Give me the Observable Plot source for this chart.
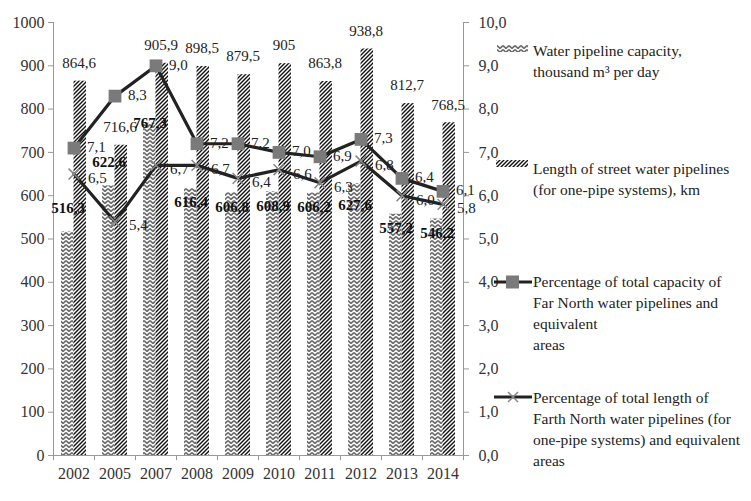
<!DOCTYPE html>
<html><head><meta charset="utf-8">
<script src="https://cdn.jsdelivr.net/npm/d3@7"></script>
<script src="https://cdn.jsdelivr.net/npm/@observablehq/plot@0.6"></script>
<style>
body{margin:0;background:#fff;}
#wrap{position:relative;width:751px;height:501px;font-family:"Liberation Serif","Times New Roman",serif;}
#wrap svg text{font-family:"Liberation Serif","Times New Roman",serif !important;}
.item{position:absolute;left:533px;font-size:15.5px;line-height:21px;color:#222;white-space:nowrap;}
.sw{position:absolute;}
</style></head><body><div id="wrap"></div>
<script>
const years = ["2002","2005","2007","2008","2009","2010","2011","2012","2013","2014"];
const capacity = [516.3, 622.6, 767.3, 616.4, 606.8, 608.9, 606.2, 627.6, 557.2, 546.2];
const lengthKm = [864.6, 716.6, 905.9, 898.5, 879.5, 905, 863.8, 938.8, 812.7, 768.5];
const pctCapacity = [7.1, 8.3, 9.0, 7.2, 7.2, 7.0, 6.9, 7.3, 6.4, 6.1];
const pctLength = [6.5, 5.4, 6.7, 6.7, 6.4, 6.6, 6.3, 6.8, 6.0, 5.8];
const leftTicks = [0,100,200,300,400,500,600,700,800,900,1000];
const leftTickLabels = ["0","100","200","300","400","500","600","700","800","900","1000"];
const rightTickLabels = ["0,0","1,0","2,0","3,0","4,0","5,0","6,0","7,0","8,0","9,0","10,0"];
const legendLabels = [
  ["Water pipeline capacity,", "thousand m³ per day"],
  ["Length of street water pipelines", "(for one-pipe systems), km"],
  ["Percentage of total capacity of", "Far North water pipelines and", "equivalent", "areas"],
  ["Percentage of total length of", "Farth North water pipelines (for", "one-pipe systems) and equivalent", "areas"]
];

const rows = years.map((year, i) => ({year, capacity: capacity[i], length: lengthKm[i], pc: pctCapacity[i], pl: pctLength[i]}));

const W = 751, H = 501, ml = 53, mr = 288, mt = 22, mb = 46;
const step = (W - ml - mr) / years.length;
const half = 12.5;
const ax = "#999";
const fmtNum = v => String(v).replace(".", ",");
const fmtPct = v => v.toFixed(1).replace(".", ",");
const yPct = d => d * 100; // right axis: 0..10 mapped onto 0..1000

const capAbove = new Set(["2002","2005"]);
const capTop = new Set(["2007"]);
const capLow = new Set(["2012"]);
const capInside = d => !capAbove.has(d.year) && !capTop.has(d.year) && !capLow.has(d.year);
const capText = {x: "year", y: "capacity", text: d => fmtNum(d.capacity), dx: -6, fontSize: 15, fontWeight: "bold", fill: "#111"};

const chart = Plot.plot({
  width: W, height: H,
  marginLeft: ml, marginRight: mr, marginTop: mt, marginBottom: mb,
  style: {fontFamily: "Liberation Serif, serif", fontSize: "16px", color: "#333", background: "white"},
  x: {type: "band", domain: years, padding: 0, label: null},
  y: {domain: [0, 1000], label: null},
  marks: [
    Plot.barY(rows, {x: "year", y: "capacity", fill: "url(#chev)", insetLeft: step/2 - half, insetRight: step/2}),
    Plot.barY(rows, {x: "year", y: "length", fill: "url(#hatch)", insetLeft: step/2, insetRight: step/2 - half}),
    Plot.ruleY([0], {stroke: ax}),
    Plot.ruleX([years[0]], {dx: -step/2, stroke: ax}),
    Plot.ruleX([years[years.length-1]], {dx: step/2, stroke: ax}),
    Plot.ruleX(years, {x: d => d, dx: -step/2, y1: 0, y2: -12, stroke: ax}),
    Plot.ruleX([years[years.length-1]], {dx: step/2, y1: 0, y2: -12, stroke: ax}),
    Plot.axisY({ticks: leftTicks, tickSize: 5, tickPadding: 4, stroke: ax, label: null,
      tickFormat: d => leftTickLabels[leftTicks.indexOf(d)]}),
    Plot.axisY({anchor: "right", ticks: leftTicks, tickSize: 5, tickPadding: 10, stroke: ax, label: null,
      tickFormat: d => rightTickLabels[leftTicks.indexOf(d)]}),
    Plot.axisX({tickSize: 0, tickPadding: 12, label: null}),
    Plot.line(rows, {x: "year", y: d => yPct(d.pl), stroke: "#222", strokeWidth: 3.2}),
    Plot.dot(rows, {x: "year", y: d => yPct(d.pl), symbol: "times", r: 5, stroke: "#888", strokeWidth: 1.5}),
    Plot.line(rows, {x: "year", y: d => yPct(d.pc), stroke: "#222", strokeWidth: 3.2}),
    Plot.dot(rows, {x: "year", y: d => yPct(d.pc), symbol: "square", r: 7.2, fill: "#7a7a7a", stroke: "none"}),
    Plot.text(rows, {x: "year", y: "length", text: d => fmtNum(d.length), dx: 5, dy: -18, fontSize: 15, fill: "#222"}),
    Plot.text(rows.filter(d => capAbove.has(d.year)), {...capText, dy: -24}),
    Plot.text(rows.filter(d => capTop.has(d.year)), {...capText, dy: 0}),
    Plot.text(rows.filter(d => capLow.has(d.year)), {...capText, dy: 21}),
    Plot.text(rows.filter(capInside), {...capText, dy: 14}),
    Plot.text(rows, {x: "year", y: d => yPct(d.pc), text: d => fmtPct(d.pc), dx: 13, dy: -1, textAnchor: "start", fontSize: 15, fill: "#222"}),
    Plot.text(rows, {x: "year", y: d => yPct(d.pl), text: d => fmtPct(d.pl), dx: 14, dy: 4, textAnchor: "start", fontSize: 15, fill: "#222"})
  ]
});

d3.select(chart).insert("defs", ":first-child").html(`
  <pattern id="chev" patternUnits="userSpaceOnUse" width="6" height="4">
    <rect width="6" height="4" fill="#fff"/>
    <path d="M0,0.6 L3,3.4 L6,0.6" fill="none" stroke="#6e6e6e" stroke-width="1.7"/>
  </pattern>
  <pattern id="hatch" patternUnits="userSpaceOnUse" width="4" height="4">
    <rect width="4" height="4" fill="#fff"/>
    <path d="M-1,1 l2,-2 M0,4 l4,-4 M3,5 l2,-2" stroke="#111" stroke-width="1.4"/>
  </pattern>`);

const wrap = document.getElementById("wrap");
wrap.appendChild(chart);

// legend
const tops = [40, 158, 271, 387];
const swatches = [
  `<svg class="sw" style="left:497px;top:45px" width="31" height="7"><rect width="31" height="7" fill="url(#chev)"/></svg>`,
  `<svg class="sw" style="left:496px;top:160px" width="32" height="7"><rect width="32" height="7" fill="url(#hatch)"/></svg>`,
  `<svg class="sw" style="left:494px;top:274px" width="38" height="16"><line x1="0" y1="8" x2="38" y2="8" stroke="#222" stroke-width="3.2"/><rect x="12" y="1.5" width="13" height="13" fill="#7a7a7a"/></svg>`,
  `<svg class="sw" style="left:494px;top:389px" width="38" height="16"><line x1="0" y1="8" x2="38" y2="8" stroke="#222" stroke-width="3.2"/><path d="M14,3 L24,13 M24,3 L14,13" stroke="#888" stroke-width="1.5"/></svg>`
];
swatches.forEach(s => wrap.insertAdjacentHTML("beforeend", s));
legendLabels.forEach((lines, i) => {
  const div = document.createElement("div");
  div.className = "item";
  div.style.top = tops[i] + "px";
  div.innerHTML = lines.join("<br>");
  wrap.appendChild(div);
});
</script></body></html>
